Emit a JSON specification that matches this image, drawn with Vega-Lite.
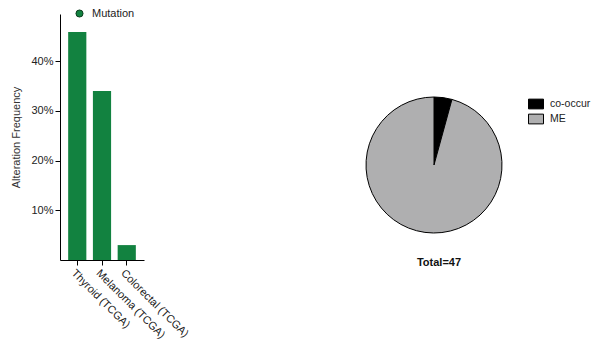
{
  "$schema": "https://vega.github.io/schema/vega-lite/v6.json",
  "padding": {"left": 10, "top": 8, "right": 0, "bottom": 5},
  "bounds": "flush",
  "spacing": 222,
  "resolve": {"scale": {"color": "independent"}, "legend": {"color": "independent"}},
  "config": {
    "view": {"stroke": null},
    "font": "Liberation Sans",
    "axis": {
      "domainColor": "#000000",
      "tickColor": "#000000",
      "labelColor": "#222222",
      "titleColor": "#333333",
      "labelFontSize": 11,
      "titleFontSize": 11,
      "titleFontWeight": "normal",
      "grid": false
    },
    "legend": {"labelFontSize": 11, "labelColor": "#222222", "padding": 0}
  },
  "hconcat": [
    {
      "width": 84,
      "height": 246,
      "data": {
        "values": [
          {"study": "Thyroid (TCGA)", "freq": 0.459, "type": "Mutation"},
          {"study": "Melanoma (TCGA)", "freq": 0.34, "type": "Mutation"},
          {"study": "Colorectal (TCGA)", "freq": 0.03, "type": "Mutation"}
        ]
      },
      "mark": {"type": "bar"},
      "encoding": {
        "x": {
          "field": "study",
          "type": "nominal",
          "sort": null,
          "scale": {"paddingInner": 0.265, "paddingOuter": 0.33},
          "axis": {"title": null, "labelAngle": 45, "labelAlign": "left", "labelBaseline": "top", "tickSize": 5}
        },
        "y": {
          "field": "freq",
          "type": "quantitative",
          "scale": {"domain": [0, 0.495], "nice": false},
          "axis": {"values": [0.1, 0.2, 0.3, 0.4], "format": ".0%", "title": "Alteration Frequency", "tickSize": 5, "titlePadding": 9}
        },
        "color": {
          "field": "type",
          "type": "nominal",
          "scale": {"range": ["#128240"]},
          "legend": {
            "title": null,
            "orient": "none",
            "legendX": 14,
            "legendY": -6,
            "symbolType": "circle",
            "symbolSize": 50,
            "symbolStrokeColor": "#0b3d1d",
            "symbolStrokeWidth": 1,
            "labelOffset": 7
          }
        }
      }
    },
    {
      "width": 136,
      "height": 302,
      "data": {
        "values": [
          {"group": "co-occur", "n": 2},
          {"group": "ME", "n": 45}
        ]
      },
      "title": {"text": "Total=47", "orient": "bottom", "offset": -59, "dx": 5, "fontSize": 11, "fontWeight": "bold", "color": "#111111"},
      "mark": {"type": "arc", "outerRadius": 68, "stroke": "#000000", "strokeWidth": 1},
      "encoding": {
        "theta": {"field": "n", "type": "quantitative", "stack": true},
        "order": {"field": "group", "sort": "descending"},
        "color": {
          "field": "group",
          "type": "nominal",
          "scale": {"domain": ["co-occur", "ME"], "range": ["#000000", "#afafb0"]},
          "legend": {
            "title": null,
            "orient": "none",
            "legendX": 162,
            "legendY": 82,
            "symbolType": "M-1,-0.65H1V0.65H-1Z",
            "symbolSize": 225,
            "symbolStrokeColor": "#000000",
            "symbolStrokeWidth": 1,
            "rowPadding": 0,
            "labelOffset": 6,
            "labelFontSize": 10.5
          }
        }
      }
    }
  ]
}
